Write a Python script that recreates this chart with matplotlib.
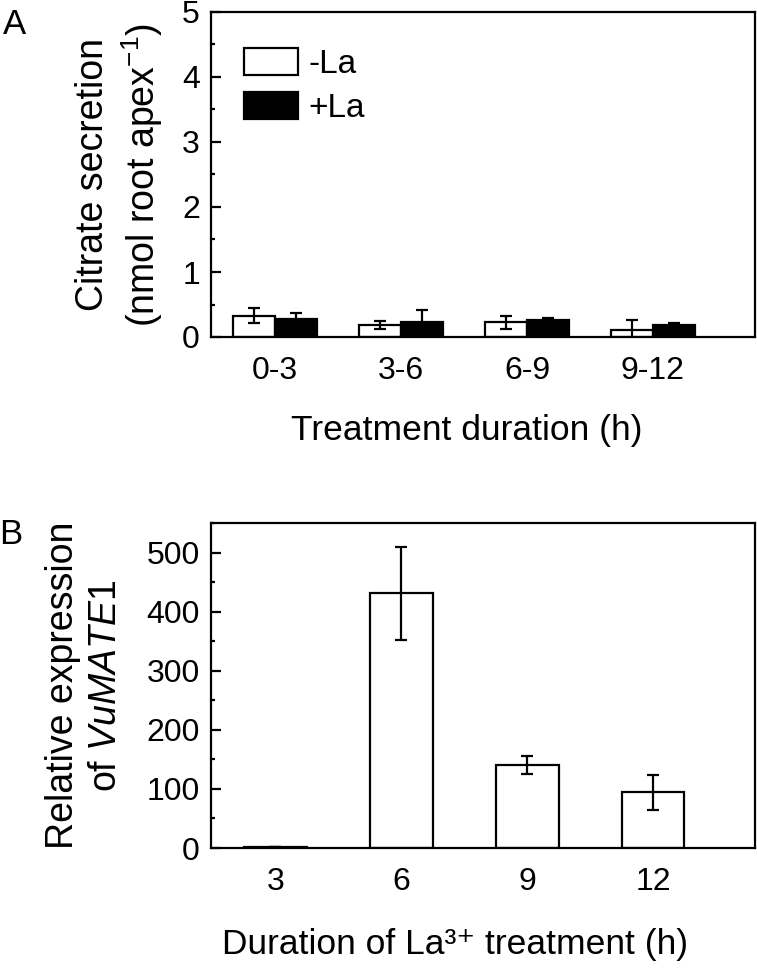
import numpy as np
import matplotlib.pyplot as plt

plt.rcParams['font.family'] = ['Liberation Sans', 'DejaVu Sans']
plt.rcParams['mathtext.fontset'] = 'custom'
plt.rcParams['mathtext.rm'] = 'Liberation Sans'
plt.rcParams['mathtext.it'] = 'Liberation Sans:italic'

# panel A data
periods = ['0-3', '3-6', '6-9', '9-12']
minus_la = [0.33, 0.19, 0.23, 0.11]
minus_la_err = [0.11, 0.06, 0.10, 0.15]
plus_la = [0.28, 0.23, 0.26, 0.18]
plus_la_err = [0.09, 0.19, 0.03, 0.03]

# panel B data
hours = ['3', '6', '9', '12']
expr = [2, 431, 140, 94]
expr_err = [0, 79, 15, 29]

fig = plt.figure(figsize=(7.57, 9.69), dpi=100)
axA = fig.add_axes([211/757, (969-337)/969, 544/757, 325/969])
axB = fig.add_axes([211/757, (969-848)/969, 544/757, 325/969])

lw = 1.6
tick_fs = 23
xlab_fs = 25.5
ylab_fs = 27

x = np.arange(len(periods))
w = 0.333
errkw = dict(ecolor='black', elinewidth=lw, capsize=4, capthick=lw)
axA.bar(x - w/2, minus_la, w, yerr=minus_la_err, color='white', edgecolor='black',
        linewidth=lw, label='-La', error_kw=errkw)
axA.bar(x + w/2, plus_la, w, yerr=plus_la_err, color='black', edgecolor='black',
        linewidth=lw, label='+La', error_kw=errkw)
axA.set_ylim(0, 5)
axA.set_yticks([0, 1, 2, 3, 4, 5])
axA.set_ylabel('Citrate secretion\n(nmol root apex$^{-1}$)', fontsize=ylab_fs,
               labelpad=12, linespacing=1.25)
axA.set_xlabel('Treatment duration (h)', fontsize=xlab_fs, labelpad=20)
axA.xaxis.label.set_x(0.47)
axA.set_xticks(x)
axA.set_xticklabels(periods)
axA.legend(loc='upper left', frameon=False, fontsize=24, handlelength=1.62,
           handleheight=0.88, handletextpad=0.3, labelspacing=0.35,
           bbox_to_anchor=(0.037, 0.93), borderaxespad=0)

xb = np.arange(len(hours))
axB.bar(xb, expr, 0.5, yerr=expr_err, color='white', edgecolor='black',
        linewidth=lw, error_kw=errkw)
axB.set_ylim(0, 550)
axB.set_yticks([0, 100, 200, 300, 400, 500])
axB.set_ylabel('Relative expression\nof $\\mathit{VuMATE1}$', fontsize=ylab_fs,
               labelpad=16, linespacing=1.25)
axB.set_xlabel('Duration of La³⁺ treatment (h)', fontsize=xlab_fs, labelpad=22)
axB.xaxis.label.set_x(0.449)
axB.set_xticks(xb)
axB.set_xticklabels(hours)

for ax, minor in ((axA, 0.5), (axB, 50)):
    ax.set_xlim(-0.51, 3.81)
    ax.yaxis.set_minor_locator(plt.MultipleLocator(minor))
    ax.tick_params(axis='y', which='major', direction='in', length=7, width=lw,
                   labelsize=tick_fs, pad=8)
    ax.tick_params(axis='y', which='minor', direction='in', length=3, width=lw)
    ax.tick_params(axis='x', length=0, labelsize=tick_fs, pad=14)
    for s in ax.spines.values():
        s.set_linewidth(lw)

fig.text(14/757, 1 - 24/969, 'A', fontsize=25, ha='center', va='center')
fig.text(11/757, 1 - 534/969, 'B', fontsize=25, ha='center', va='center')

fig.savefig('out.png', dpi=100)
